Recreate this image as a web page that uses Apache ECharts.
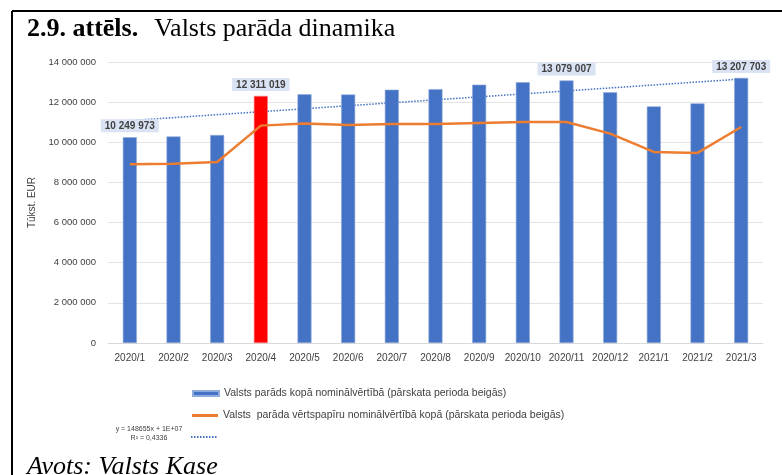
<!DOCTYPE html>
<html>
<head>
<meta charset="utf-8">
<script src="https://cdn.jsdelivr.net/npm/echarts@6/dist/echarts.min.js"></script>
<style>
  html, body { margin: 0; padding: 0; background: #fff; }
  #chart { width: 782px; height: 475px; }
</style>
</head>
<body>
<div id="chart"></div>
<script>
// mēneši
var categories = ['2020/1', '2020/2', '2020/3', '2020/4', '2020/5', '2020/6', '2020/7', '2020/8',
    '2020/9', '2020/10', '2020/11', '2020/12', '2021/1', '2021/2', '2021/3'];

// valsts parāds kopā (stabiņi)
var debtTotal = [10249973, 10290000, 10360000, 12311019, 12390000, 12380000, 12620000, 12650000,
    12870000, 12990000, 13079007, 12490000, 11790000, 11940000, 13207703];

// vērtspapīri (līnija)
var securities = [8900000, 8930000, 9020000, 10830000, 10940000, 10860000, 10910000, 10910000,
    10960000, 11010000, 11010000, 10430000, 9520000, 9470000, 10760000];

// trenda līnijas galapunkti (nolasīti no attēla)
var trendStart = 11080000;
var trendEnd = 13150000;

var labeledIdx = [0, 3, 10, 14];
var highlightIdx = 3;

var barName = 'Valsts parāds kopā nominālvērtībā (pārskata perioda beigās)';
var lineName = 'Valsts  parāda vērtspapīru nominālvērtībā kopā (pārskata perioda beigās)';
var trendName = 'Lineārā tendence';

function fmt(v) {
    return String(v).replace(/\B(?=(\d{3})+(?!\d))/g, ' ');
}

var barData = debtTotal.map(function (v, i) {
    var item = { value: v };
    if (i === highlightIdx) {
        item.itemStyle = { color: '#ff0000', borderColor: '#ff8080' };
    }
    if (labeledIdx.indexOf(i) >= 0) {
        item.label = { show: true };
    }
    return item;
});

var trendData = categories.map(function (c, i) {
    if (i === 0) return trendStart;
    if (i === categories.length - 1) return trendEnd;
    return '-';
});

var dom = document.getElementById('chart');
var myChart = echarts.init(dom, null, { renderer: 'canvas' });

var font = 'Liberation Sans';

var option = {
    animation: false,
    backgroundColor: '#ffffff',
    title: [
        {
            text: '{a|2.9. attēls.}{b|Valsts parāda dinamika}',
            left: 22,
            top: 11,
            textStyle: {
                rich: {
                    a: { fontFamily: 'Liberation Serif', fontSize: 26, fontWeight: 'bold', color: '#000', padding: [0, 16, 0, 0] },
                    b: { fontFamily: 'Liberation Serif', fontSize: 26, fontWeight: 'normal', color: '#000' }
                }
            }
        },
        {
            text: 'Avots: Valsts Kase',
            left: 22,
            top: 449,
            textStyle: { fontFamily: 'Liberation Serif', fontSize: 26, fontStyle: 'italic', fontWeight: 'normal', color: '#000' }
        }
    ],
    graphic: [
        { type: 'line', shape: { x1: 12, y1: 11, x2: 782, y2: 11 }, style: { stroke: '#000', lineWidth: 2 } },
        { type: 'line', shape: { x1: 12, y1: 11, x2: 12, y2: 475 }, style: { stroke: '#000', lineWidth: 2 } },
        {
            type: 'text', x: 149, y: 426,
            style: { text: 'y = 148655x + 1E+07', font: '7px ' + font, fill: '#404040', textAlign: 'center' }
        },
        {
            type: 'text', x: 149, y: 435,
            style: { text: 'R² = 0,4336', font: '7px ' + font, fill: '#404040', textAlign: 'center' }
        }
    ],
    grid: { left: 108, right: 19, top: 62, bottom: 132 },
    legend: [
        {
            data: [{ name: barName, icon: 'rect' }], left: 187, top: 383, itemWidth: 26, itemHeight: 5,
            textStyle: { fontFamily: font, fontSize: 10.5, color: '#404040' }
        },
        {
            data: [{ name: lineName, icon: 'rect' }], left: 187, top: 405, itemWidth: 26, itemHeight: 3,
            textStyle: { fontFamily: font, fontSize: 10.5, color: '#404040' }
        },
        {
            data: [trendName], left: 185, top: 428, itemWidth: 26, itemHeight: 8,
            itemStyle: { opacity: 0 },
            formatter: function () { return ''; },
            textStyle: { fontSize: 6 }
        }
    ],
    xAxis: {
        type: 'category',
        data: categories,
        axisLine: { lineStyle: { color: '#d9d9d9' } },
        axisTick: { show: false },
        axisLabel: { fontFamily: font, fontSize: 10, color: '#404040', margin: 10, interval: 0 }
    },
    yAxis: {
        type: 'value',
        min: 0,
        max: 14000000,
        interval: 2000000,
        name: 'Tūkst. EUR',
        nameLocation: 'middle',
        nameGap: 44,
        nameTextStyle: { fontFamily: font, fontSize: 10, color: '#404040' },
        axisLabel: { fontFamily: font, fontSize: 9.5, color: '#404040', margin: 12, formatter: fmt },
        splitLine: { lineStyle: { color: '#e4e4e4' } },
        axisLine: { show: false },
        axisTick: { show: false }
    },
    series: [
        {
            name: barName,
            type: 'bar',
            barWidth: 14,
            itemStyle: { color: '#4472c4', borderColor: '#8faadc', borderWidth: 0.6 },
            label: {
                show: false,
                position: 'top',
                distance: 5,
                formatter: function (p) { return fmt(p.value); },
                backgroundColor: '#dae3f3',
                padding: [2, 4, 1, 4],
                fontFamily: font,
                fontSize: 10,
                fontWeight: 'bold',
                color: '#404040'
            },
            data: barData,
            z: 2
        },
        {
            name: lineName,
            type: 'line',
            symbol: 'none',
            lineStyle: { color: '#ed7d31', width: 2.5 },
            itemStyle: { color: '#ed7d31' },
            data: securities,
            z: 3
        },
        {
            name: trendName,
            type: 'line',
            symbol: 'none',
            connectNulls: true,
            lineStyle: { color: '#4472c4', width: 1.5, type: [1.5, 1.5] },
            itemStyle: { color: '#4472c4' },
            data: trendData,
            z: 1
        }
    ]
};

if (option && typeof option === 'object') {
    myChart.setOption(option);
}

window.addEventListener('resize', myChart.resize);
</script>
</body>
</html>
